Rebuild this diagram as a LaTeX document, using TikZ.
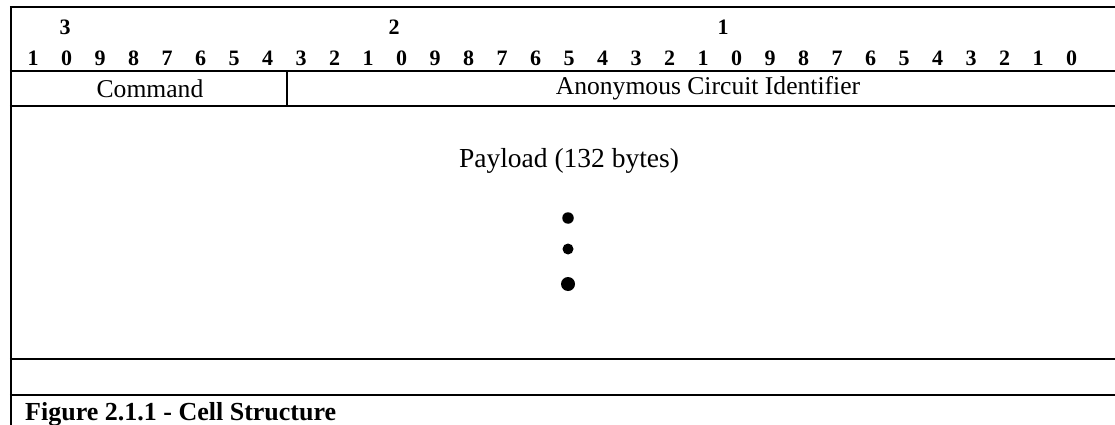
\documentclass[tikz,border=0pt]{standalone}
\usepackage{fontspec}
\setmainfont{Liberation Serif}
\begin{document}
\begin{tikzpicture}[x=1pt,y=-1pt,
  rule/.style={line width=2.4pt},
  bitnum/.style={font=\fontsize{22}{24}\selectfont\bfseries, inner sep=0pt, anchor=center},
  field/.style={font=\fontsize{25.6}{28}\selectfont, inner sep=0pt},
  caption/.style={font=\fontsize{26}{28}\selectfont\bfseries, inner sep=0pt, anchor=base west},
  dot/.style={circle, fill=black, inner sep=0pt}]
\useasboundingbox (0,0) rectangle (1115,425);

% frame: left edge and horizontal rules
\draw[rule] (11,7) -- (11,425);
\foreach \y in {7,71,106,359,395}
  \draw[rule] (9.8,\y) -- (1116,\y);
% divider between the command and circuit id fields
\draw[rule] (287,71) -- (287,106);

% bit numbers, tens row
\node[bitnum] (t3) at (65,27) {3};
\node[bitnum] (t2) at (394,27) {2};
\node[bitnum] (t1) at (723,27) {1};

% bit numbers, units row (31 down to 0)
\foreach \k in {0,...,31} {
  \pgfmathtruncatemacro{\d}{mod(31-\k,10)}
  \node[bitnum] (u\k) at ({33+\k*33.5},58) {\d};
}

% field labels
\node[field] (cmd) at (150,88.5) {Command};
\node[field] (aci) at (708,88.5) {Anonymous Circuit Identifier};
\node[field, font=\fontsize{27.5}{30}\selectfont] (pay) at (569,161) {Payload (132 bytes)};

% ellipsis dots
\node[dot, minimum size=11.5pt] (d1) at (568,218) {};
\node[dot, minimum size=11pt] (d2) at (568,249) {};
\node[dot, minimum size=14pt] (d3) at (568,284) {};

% caption
\node[caption] (cap) at (25,420) {Figure 2.1.1 - Cell Structure};
\end{tikzpicture}
\end{document}
